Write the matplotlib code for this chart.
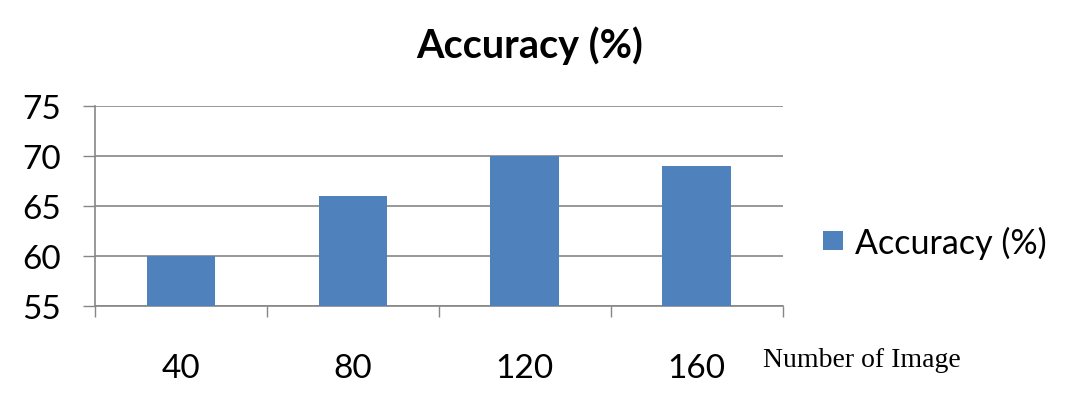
import numpy as np, matplotlib
matplotlib.use("Agg"); import matplotlib.pyplot as plt

categories = ["40", "80", "120", "160"]
accuracy = [60, 66, 70, 69]
y_ticks = [55, 60, 65, 70, 75]

plt.rcParams['font.family'] = ['Lato', 'DejaVu Sans']
grey = "#868686"
blue = "#4F81BD"

fig = plt.figure(figsize=(10.66, 4.10), dpi=100)
ax = fig.add_axes([95 / 1066, 1 - 306.7 / 410, (782.7 - 95) / 1066, (306.7 - 107) / 410])

x = np.arange(len(categories))
ax.bar(x, accuracy, width=0.4, color=blue, label="Accuracy (%)", zorder=3)

ax.set_xlim(-0.5, len(categories) - 0.5)
ax.set_ylim(55, 75)
ax.set_yticks(y_ticks)
ax.yaxis.grid(True, color=grey, lw=1.2, zorder=0)
ax.tick_params(axis='y', length=8.5, width=1, color=grey, labelsize=24, pad=16)

ax.set_xticks(x)
ax.set_xticklabels(categories)
ax.set_xticks(np.arange(len(categories) + 1) - 0.5, minor=True)
ax.tick_params(axis='x', which='major', length=0, labelsize=24, pad=34)
ax.tick_params(axis='x', which='minor', length=8, width=1, color=grey)

for s in ('top', 'right'):
    ax.spines[s].set_visible(False)
for s in ('left', 'bottom'):
    ax.spines[s].set_color(grey)
    ax.spines[s].set_linewidth(1.2)

fig.text(530 / 1066, 1 - 46 / 410, "Accuracy (%)", fontsize=28.5, fontweight='bold',
         ha='center', va='center')
fig.text(763 / 1066, 1 - 361 / 410, "Number of Image", fontsize=20,
         family='Liberation Serif', ha='left', va='center')

fig.legend(loc='center left', bbox_to_anchor=(792 / 1066, 1 - 243 / 410), frameon=False,
           fontsize=24.5, handlelength=0.6, handleheight=0.45, handletextpad=0.35)

fig.savefig("out.png", dpi=100)
